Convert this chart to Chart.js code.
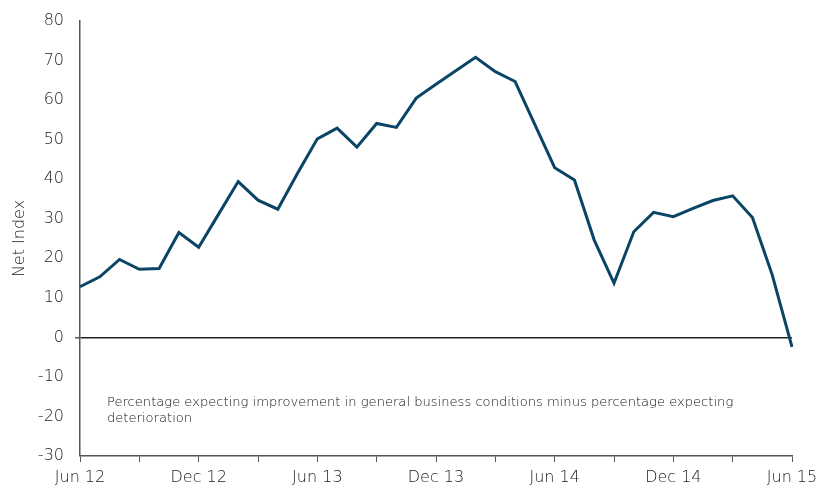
<!DOCTYPE html>
<html>
<head>
<meta charset="utf-8">
<script src="https://cdn.jsdelivr.net/npm/chart.js@4"></script>
<style>
  html, body { margin: 0; padding: 0; background: #fff; }
  #wrap { width: 819px; height: 486px; }
</style>
</head>
<body>
<div id="wrap"><canvas id="grafico"></canvas></div>
<script>
// Datos (mensual, Jun 12 - Jun 15)
const meses = [
  "Jun 12", "Jul 12", "Aug 12", "Sep 12", "Oct 12", "Nov 12",
  "Dec 12", "Jan 13", "Feb 13", "Mar 13", "Apr 13", "May 13",
  "Jun 13", "Jul 13", "Aug 13", "Sep 13", "Oct 13", "Nov 13",
  "Dec 13", "Jan 14", "Feb 14", "Mar 14", "Apr 14", "May 14",
  "Jun 14", "Jul 14", "Aug 14", "Sep 14", "Oct 14", "Nov 14",
  "Dec 14", "Jan 15", "Feb 15", "Mar 15", "Apr 15", "May 15",
  "Jun 15"
];
const netIndex = [
  12.8, 15.3, 19.7, 17.2, 17.4, 26.5,
  22.8, 31.1, 39.4, 34.7, 32.4, 41.5,
  50.2, 52.9, 48.1, 54.1, 53.1, 60.5,
  64.0, 67.4, 70.8, 67.2, 64.7, 53.8,
  42.9, 39.8, 24.6, 13.7, 26.7, 31.6,
  30.5, 32.6, 34.6, 35.8, 30.3, 15.8,
  -2.4
];
const etiquetasX = ["Jun 12", "Dec 12", "Jun 13", "Dec 13", "Jun 14", "Dec 14", "Jun 15"];
const nota = [
  "Percentage expecting improvement in general business conditions minus percentage expecting",
  "deterioration"
];

const fuente = "'DejaVu Sans', sans-serif";
const gris = "#222";

// Nota dentro del área del gráfico
const notaPlugin = {
  id: "nota",
  afterDraw(chart) {
    const ctx = chart.ctx;
    const x = chart.scales.x;
    const y = chart.scales.y;
    ctx.save();
    ctx.font = "200 13.1px " + fuente;
    ctx.fillStyle = "#111";
    ctx.textBaseline = "middle";
    ctx.fillText(nota[0], x.left + 27, y.getPixelForValue(-16.6));
    ctx.fillText(nota[1], x.left + 27, y.getPixelForValue(-20.6));
    ctx.restore();
  }
};

new Chart(document.getElementById("grafico").getContext("2d"), {
  type: "line",
  data: {
    labels: meses,
    datasets: [
      {
        data: netIndex,
        borderColor: "#0b4566",
        borderWidth: 3,
        pointRadius: 0,
        tension: 0,
        fill: false
      }
    ]
  },
  options: {
    responsive: true,
    maintainAspectRatio: false,
    animation: false,
    layout: { padding: 0 },
    plugins: {
      legend: { display: false },
      tooltip: { enabled: false }
    },
    scales: {
      x: {
        offset: false,
        afterFit: (s) => { s.height = 30; s.paddingRight = 27; },
        border: { display: true, color: "#555", width: 1.5 },
        grid: {
          offset: false,
          drawOnChartArea: false,
          tickLength: 6,
          tickColor: (c) => (c.index % 3 === 0 ? "#555" : "rgba(0,0,0,0)")
        },
        ticks: {
          autoSkip: false,
          maxRotation: 0,
          padding: 6,
          color: gris,
          font: { family: fuente, size: 16, weight: 200 },
          callback: (v, i) => (etiquetasX.includes(meses[i]) ? meses[i] : "")
        }
      },
      y: {
        min: -30,
        max: 80,
        afterFit: (s) => { s.width = 80; s.paddingTop = 21; s.paddingBottom = 0; },
        border: { display: true, color: "#555", width: 1.5 },
        grid: {
          drawOnChartArea: true,
          tickLength: 5,
          tickColor: "#555",
          lineWidth: (c) => (c.tick && c.tick.value === 0 ? 1.5 : 0),
          color: (c) => (c.tick && c.tick.value === 0 ? "#222" : "rgba(0,0,0,0)")
        },
        ticks: {
          stepSize: 10,
          padding: 11,
          color: gris,
          font: { family: fuente, size: 16, weight: 200 }
        },
        title: {
          display: true,
          text: "Net Index",
          color: gris,
          font: { family: fuente, size: 16, weight: 200 },
          padding: { top: 10, bottom: 0 }
        }
      }
    }
  },
  plugins: [notaPlugin]
});
</script>
</body>
</html>
